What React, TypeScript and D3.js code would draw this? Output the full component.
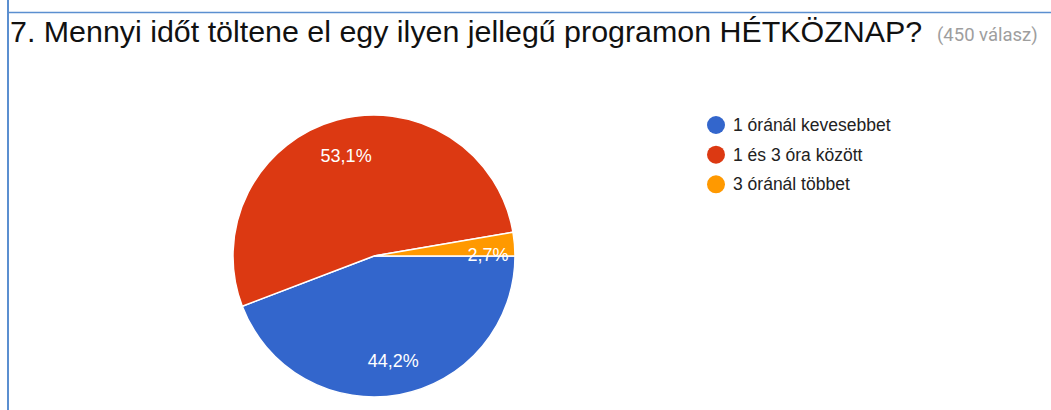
import React from 'react'
import * as d3 from 'd3'

const categories = ['1 óránál kevesebbet', '1 és 3 óra között', '3 óránál többet']
const values = [44.2, 53.1, 2.7]
const colors = ['#3366cc', '#dc3912', '#ff9900']
const title = '7. Mennyi időt töltene el egy ilyen jellegű programon HÉTKÖZNAP?'
const responses = '(450 válasz)'

const width = 1051
const height = 410
const cx = 374
const cy = 256
const radius = 141

export default function App() {
  const pie = d3
    .pie<number>()
    .sort(null)
    .startAngle(Math.PI / 2)
    .endAngle(Math.PI / 2 + 2 * Math.PI)
  const arcs = pie(values)
  const arc = d3.arc<d3.PieArcDatum<number>>().innerRadius(0).outerRadius(radius)
  const labelArc = d3
    .arc<d3.PieArcDatum<number>>()
    .innerRadius(radius * 0.75)
    .outerRadius(radius * 0.75)

  const legend = d3.scaleBand<string>().domain(categories).range([125, 214]).paddingInner(0)

  return (
    <svg
      width={width}
      height={height}
      style={{ position: 'absolute', left: 0, top: 0, background: '#fff' }}
    >
      {/* frame */}
      <line x1={8} y1={0} x2={8} y2={height} stroke="#5b8fd0" strokeWidth={2} />
      <line x1={7} y1={12.5} x2={width} y2={12.5} stroke="#5b8fd0" strokeWidth={1.5} />

      <text
        x={10}
        y={42}
        fontFamily="'Liberation Sans', Arial, sans-serif"
        fontSize={30.4}
        fill="#111"
      >
        {title}
      </text>
      <text x={937} y={41} fontFamily="Roboto, sans-serif" fontSize={18.5} fill="#9e9e9e">
        {responses}
      </text>

      <g transform={`translate(${cx},${cy})`}>
        {arcs.map((a, i) => (
          <path key={i} d={arc(a) || ''} fill={colors[i]} stroke="#fff" strokeWidth={1.5} />
        ))}
        {arcs.map((a, i) => {
          const [x, y] = i === 2 ? [114, -3] : labelArc.centroid(a)
          return (
            <text
              key={i}
              x={x}
              y={y + 1.5}
              textAnchor="middle"
              dominantBaseline="central"
              fontFamily="Arial, 'Liberation Sans', sans-serif"
              fontSize={18}
              fill="#fff"
            >
              {values[i].toFixed(1).replace('.', ',')}%
            </text>
          )
        })}
      </g>

      {categories.map((c, i) => (
        <g key={c} transform={`translate(716,${(legend(c) || 0)})`}>
          <circle r={9} fill={colors[i]} />
          <text
            x={17}
            y={0}
            dominantBaseline="central"
            fontFamily="Arial, 'Liberation Sans', sans-serif"
            fontSize={17.5}
            fill="#222"
          >
            {c}
          </text>
        </g>
      ))}
    </svg>
  )
}
